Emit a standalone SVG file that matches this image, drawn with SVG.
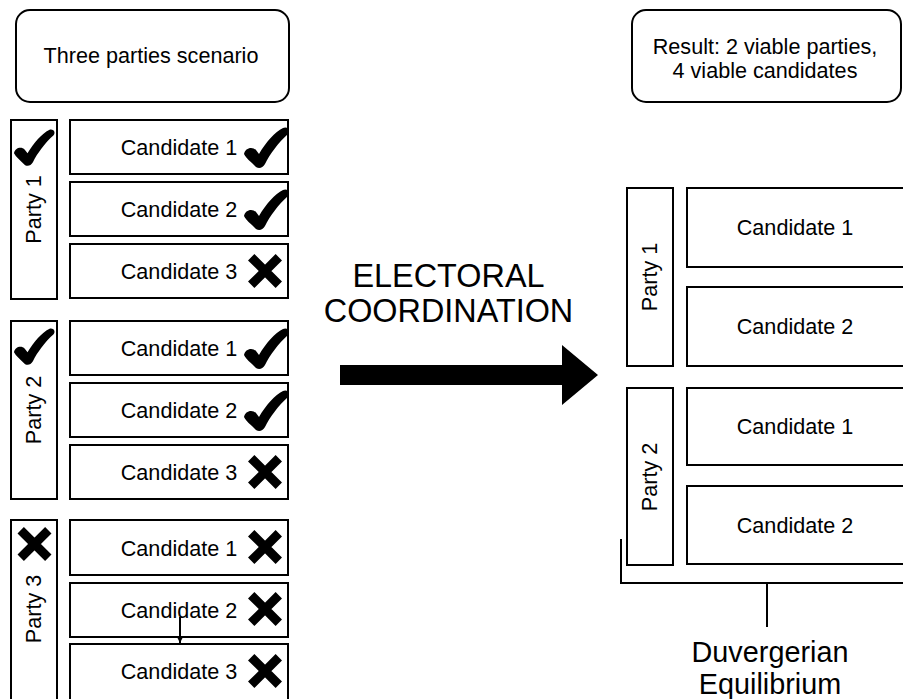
<svg xmlns="http://www.w3.org/2000/svg" width="903" height="699" viewBox="0 0 903 699">
<style>
.box{fill:#fff;stroke:#000;stroke-width:2}
.t{font-family:"Liberation Sans",Arial,Helvetica,sans-serif;font-size:21.6px;fill:#000;text-anchor:middle}
.big{font-family:"Liberation Sans",Arial,Helvetica,sans-serif;font-size:32.4px;fill:#000;text-anchor:middle}
.mid{font-family:"Liberation Sans",Arial,Helvetica,sans-serif;font-size:28.8px;fill:#000;text-anchor:middle}
.ln{fill:none;stroke:#000;stroke-width:2}
.cross{fill:none;stroke:#000;stroke-width:9}
</style>
<defs>
<path id="chk" d="M0,27 C1,21 8,19 12,23 L15,27 C22,15 31,5 39,1 C43,-1 47,3 44,7 C34,16 26,27 21,37 C18,42 13,42 10,38 C7,35 2,31 0,27 Z" fill="#000"/>
<path id="xx" d="M-13.8,-13.8 L13.8,13.8 M13.8,-13.8 L-13.8,13.8" class="cross"/>
<marker id="ah" viewBox="0 0 6 6" refX="6" refY="3" markerWidth="6" markerHeight="6" markerUnits="userSpaceOnUse" orient="auto">
<path d="M0,0 L6,3 L0,6 Z" fill="#000"/>
</marker>
</defs>
<rect width="903" height="699" fill="#fff"/>

<g id="title-left">
<rect class="box" x="16" y="10" width="273" height="92" rx="14"/>
<text class="t" x="151" y="63">Three parties scenario</text>
</g>
<g id="title-right">
<rect class="box" x="632" y="10" width="269" height="92" rx="14"/>
<text class="t" x="765" y="54">Result: 2 viable parties,</text>
<text class="t" x="765" y="78">4 viable candidates</text>
</g>

<!-- Left: Party 1 -->
<g id="l-party1">
<rect class="box" x="11" y="120" width="46" height="179"/>
<text class="t" transform="translate(34,209.5) rotate(-90)" x="0" y="7">Party 1</text>
<use href="#chk" transform="translate(14,129) scale(0.9)"/>
</g>
<g id="l-p1-c1">
<rect class="box" x="70" y="120" width="218" height="54"/>
<text class="t" x="179" y="155">Candidate 1</text>
<use href="#chk" transform="translate(244,127)"/>
</g>
<g id="l-p1-c2">
<rect class="box" x="70" y="182" width="218" height="54"/>
<text class="t" x="179" y="217">Candidate 2</text>
<use href="#chk" transform="translate(244,189)"/>
</g>
<g id="l-p1-c3">
<rect class="box" x="70" y="244" width="218" height="54"/>
<text class="t" x="179" y="279">Candidate 3</text>
<use href="#xx" transform="translate(265,271)"/>
</g>

<!-- Left: Party 2 -->
<g id="l-party2">
<rect class="box" x="11" y="321" width="46" height="178"/>
<text class="t" transform="translate(34,410) rotate(-90)" x="0" y="7">Party 2</text>
<use href="#chk" transform="translate(14,328) scale(0.9)"/>
</g>
<g id="l-p2-c1">
<rect class="box" x="70" y="321" width="218" height="54"/>
<text class="t" x="179" y="356">Candidate 1</text>
<use href="#chk" transform="translate(244,328)"/>
</g>
<g id="l-p2-c2">
<rect class="box" x="70" y="383" width="218" height="54"/>
<text class="t" x="179" y="418">Candidate 2</text>
<use href="#chk" transform="translate(244,390)"/>
</g>
<g id="l-p2-c3">
<rect class="box" x="70" y="445" width="218" height="54"/>
<text class="t" x="179" y="480">Candidate 3</text>
<use href="#xx" transform="translate(265,472)"/>
</g>

<!-- Left: Party 3 -->
<g id="l-party3">
<rect class="box" x="11" y="520" width="46" height="185"/>
<text class="t" transform="translate(34,609) rotate(-90)" x="0" y="7">Party 3</text>
<use href="#xx" transform="translate(34.5,544)"/>
</g>
<g id="l-p3-c1">
<rect class="box" x="70" y="520" width="218" height="55"/>
<text class="t" x="179" y="555.5">Candidate 1</text>
<use href="#xx" transform="translate(265,547)"/>
</g>
<g id="l-p3-c2">
<rect class="box" x="70" y="583" width="218" height="54"/>
<text class="t" x="179" y="618">Candidate 2</text>
<use href="#xx" transform="translate(265,609)"/>
</g>
<g id="l-p3-c3">
<rect class="box" x="70" y="644" width="218" height="62"/>
<text class="t" x="179" y="679">Candidate 3</text>
<use href="#xx" transform="translate(265,671)"/>
</g>

<!-- Middle -->
<g id="coordination">
<text class="big" x="448.5" y="287">ELECTORAL</text>
<text class="big" x="448.5" y="322">COORDINATION</text>
<polygon points="340,365 562,365 562,345 598,375 562,405 562,385 340,385" fill="#000"/>
</g>

<!-- Right: Party 1 -->
<g id="r-party1">
<rect class="box" x="627" y="188" width="46" height="178"/>
<text class="t" transform="translate(650,277) rotate(-90)" x="0" y="7">Party 1</text>
</g>
<g id="r-p1-c1">
<rect class="box" x="687" y="188" width="220" height="79"/>
<text class="t" x="795" y="235">Candidate 1</text>
</g>
<g id="r-p1-c2">
<rect class="box" x="687" y="287" width="220" height="79"/>
<text class="t" x="795" y="334">Candidate 2</text>
</g>

<!-- Right: Party 2 -->
<g id="r-party2">
<rect class="box" x="627" y="388" width="46" height="177"/>
<text class="t" transform="translate(650,477) rotate(-90)" x="0" y="7">Party 2</text>
</g>
<g id="r-p2-c1">
<rect class="box" x="687" y="388" width="220" height="77"/>
<text class="t" x="795" y="434">Candidate 1</text>
</g>
<g id="r-p2-c2">
<rect class="box" x="687" y="486" width="220" height="78"/>
<text class="t" x="795" y="533">Candidate 2</text>
</g>

<g id="equilibrium">
<text class="mid" x="770" y="662">Duvergerian</text>
<text class="mid" x="770" y="694">Equilibrium</text>
</g>

<g id="connectors">
<path class="ln" d="M621,539 V583 H905"/>
<path class="ln" d="M767,583 V627"/>
<path class="ln" d="M180,617 V643" stroke-width="1.5" marker-end="url(#ah)"/>
</g>
</svg>
